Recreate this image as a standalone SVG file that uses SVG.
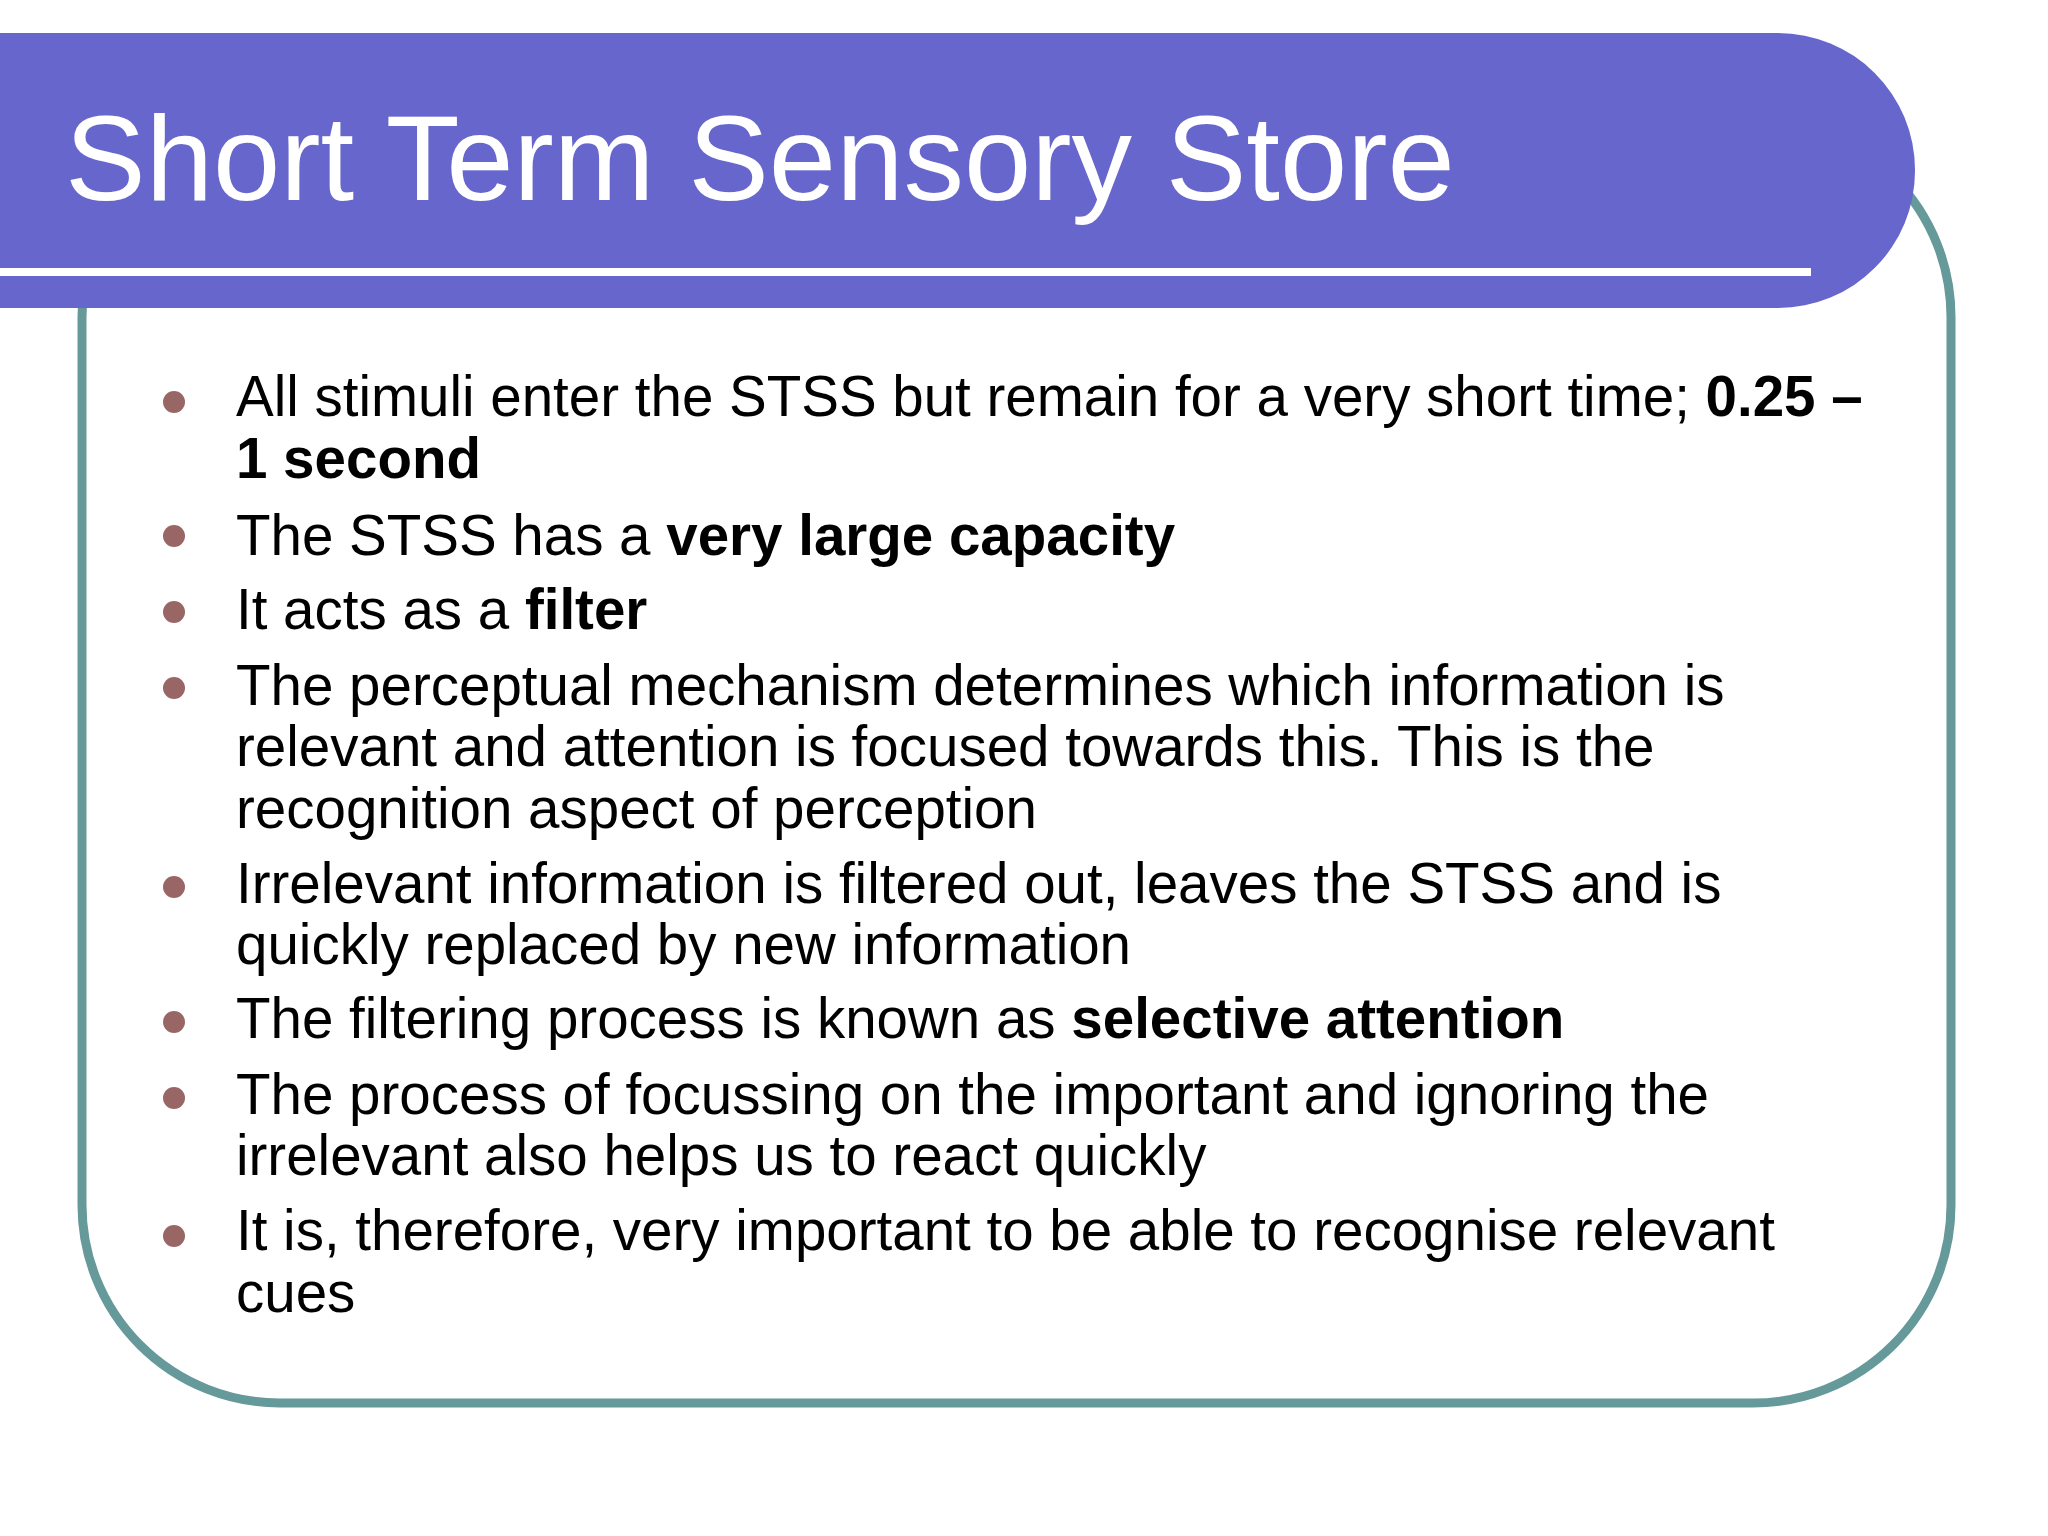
<svg xmlns="http://www.w3.org/2000/svg" width="2048" height="1536" viewBox="0 0 2048 1536">
<style>
.t{font-family:"Liberation Sans",Arial,sans-serif;font-size:56.5px;fill:#000}
.b{font-weight:bold}
.d{fill:#996666}
</style>
<rect width="2048" height="1536" fill="#fff"/>
<rect x="82" y="119" width="1869" height="1284" rx="198" fill="none" stroke="#669999" stroke-width="9"/>
<g id="title">
<rect x="-300" y="33" width="2215" height="275" rx="137" fill="#6666cc"/>
<rect x="0" y="268" width="1811" height="8" fill="#fff"/>
<text x="65" y="200" font-family="Liberation Sans, Arial, sans-serif" font-size="121" fill="#fff">Short Term Sensory Store</text>
</g>
<g id="bullets">
<circle class="d" cx="174" cy="402" r="11"/>
<circle class="d" cx="174" cy="536" r="11"/>
<circle class="d" cx="174" cy="612" r="11"/>
<circle class="d" cx="174" cy="688" r="11"/>
<circle class="d" cx="174" cy="887" r="11"/>
<circle class="d" cx="174" cy="1022" r="11"/>
<circle class="d" cx="174" cy="1098" r="11"/>
<circle class="d" cx="174" cy="1236" r="11"/>
<text class="t" x="236" y="416">All stimuli enter the STSS but remain for a very short time; <tspan class="b">0.25 –</tspan></text>
<text class="t b" x="236" y="478">1 second</text>
<text class="t" x="236" y="555">The STSS has a <tspan class="b">very large capacity</tspan></text>
<text class="t" x="236" y="629">It acts as a <tspan class="b">filter</tspan></text>
<text class="t" x="236" y="705">The perceptual mechanism determines which information is</text>
<text class="t" x="236" y="766">relevant and attention is focused towards this. This is the</text>
<text class="t" x="236" y="828">recognition aspect of perception</text>
<text class="t" x="236" y="903">Irrelevant information is filtered out, leaves the STSS and is</text>
<text class="t" x="236" y="964">quickly replaced by new information</text>
<text class="t" x="236" y="1038">The filtering process is known as <tspan class="b">selective attention</tspan></text>
<text class="t" x="236" y="1114">The process of focussing on the important and ignoring the</text>
<text class="t" x="236" y="1175">irrelevant also helps us to react quickly</text>
<text class="t" x="236" y="1250">It is, therefore, very important to be able to recognise relevant</text>
<text class="t" x="236" y="1312">cues</text>
</g>
</svg>
